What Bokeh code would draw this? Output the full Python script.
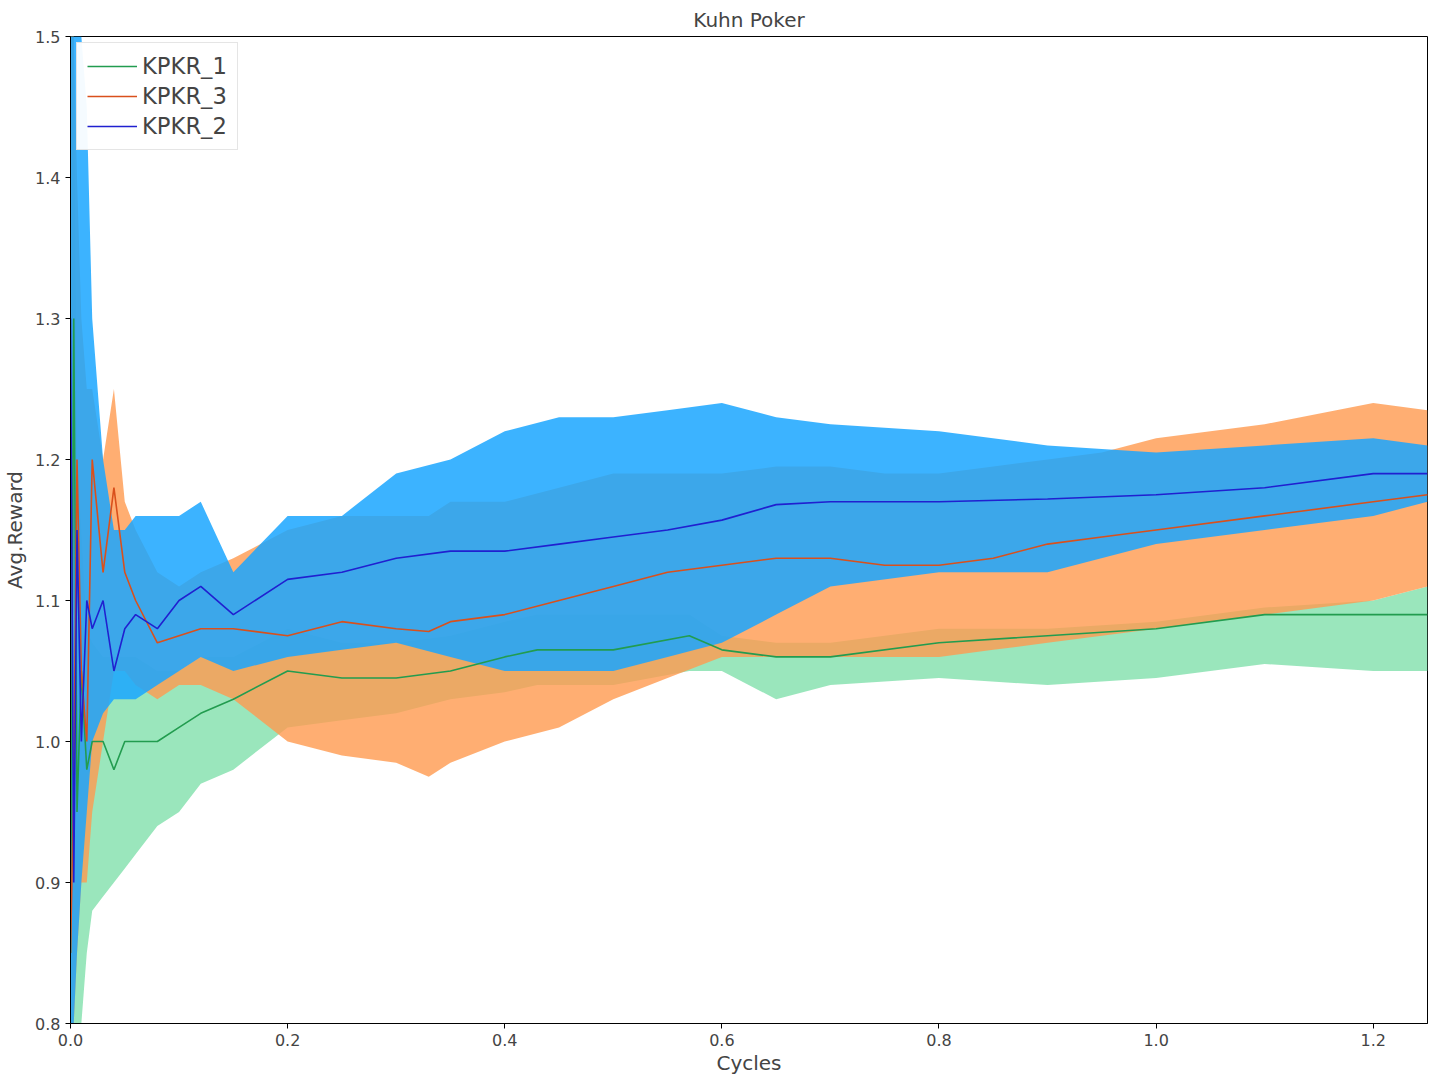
from bokeh.plotting import figure
from bokeh.models import CustomJSTickFormatter, Label, Legend, LegendItem, FixedTicker
from bokeh.embed import file_html
from bokeh.resources import INLINE

# KPKR_1 (green)
g_x = [0, 30, 60, 100, 150, 200, 300, 400, 500, 600, 800, 1000, 1200, 1500, 2000, 2500, 3000, 3500, 4000, 4300, 5000, 5700, 6000, 6500, 7000, 8000, 9000, 10000, 11000, 12000, 12500]
g_m = [0.85, 1.3, 0.95, 1.05, 0.98, 1.0, 1.0, 0.98, 1.0, 1.0, 1.0, 1.01, 1.02, 1.03, 1.05, 1.045, 1.045, 1.05, 1.06, 1.065, 1.065, 1.075, 1.065, 1.06, 1.06, 1.07, 1.075, 1.08, 1.09, 1.09, 1.09]
g_hi = [1.5, 1.5, 1.2, 1.15, 1.08, 1.07, 1.06, 1.06, 1.06, 1.06, 1.05, 1.05, 1.06, 1.06, 1.08, 1.07, 1.07, 1.075, 1.085, 1.09, 1.09, 1.09, 1.075, 1.07, 1.07, 1.08, 1.08, 1.085, 1.095, 1.1, 1.11]
g_lo = [0.8, 0.8, 0.8, 0.8, 0.85, 0.88, 0.89, 0.9, 0.91, 0.92, 0.94, 0.95, 0.97, 0.98, 1.01, 1.015, 1.02, 1.03, 1.035, 1.04, 1.04, 1.05, 1.05, 1.03, 1.04, 1.045, 1.04, 1.045, 1.055, 1.05, 1.05]

# KPKR_3 (orange)
o_x = [0, 30, 60, 100, 150, 200, 300, 400, 500, 600, 800, 1000, 1200, 1500, 2000, 2500, 3000, 3300, 3500, 4000, 4500, 5000, 5500, 6000, 6500, 7000, 7500, 8000, 8500, 9000, 9500, 10000, 11000, 12000, 12500]
o_m = [0.85, 0.97, 1.2, 1.05, 1.0, 1.2, 1.12, 1.18, 1.12, 1.1, 1.07, 1.075, 1.08, 1.08, 1.075, 1.085, 1.08, 1.078, 1.085, 1.09, 1.1, 1.11, 1.12, 1.125, 1.13, 1.13, 1.125, 1.125, 1.13, 1.14, 1.145, 1.15, 1.16, 1.17, 1.175]
o_hi = [1.5, 1.5, 1.4, 1.3, 1.25, 1.25, 1.2, 1.25, 1.17, 1.15, 1.12, 1.11, 1.12, 1.13, 1.15, 1.16, 1.16, 1.16, 1.17, 1.17, 1.18, 1.19, 1.19, 1.19, 1.195, 1.195, 1.19, 1.19, 1.195, 1.2, 1.205, 1.215, 1.225, 1.24, 1.235]
o_lo = [0.8, 0.8, 0.85, 0.9, 0.9, 0.95, 1.0, 1.05, 1.05, 1.04, 1.03, 1.04, 1.04, 1.03, 1.0, 0.99, 0.985, 0.975, 0.985, 1.0, 1.01, 1.03, 1.045, 1.06, 1.06, 1.06, 1.06, 1.06, 1.065, 1.07, 1.075, 1.08, 1.09, 1.1, 1.11]

# KPKR_2 (blue)
b_x = [0, 30, 60, 100, 150, 200, 300, 400, 500, 600, 800, 1000, 1200, 1500, 2000, 2500, 3000, 3500, 4000, 4500, 5000, 5500, 6000, 6500, 7000, 8000, 9000, 10000, 11000, 12000, 12500]
b_m = [1.3, 0.9, 1.15, 1.0, 1.1, 1.08, 1.1, 1.05, 1.08, 1.09, 1.08, 1.1, 1.11, 1.09, 1.115, 1.12, 1.13, 1.135, 1.135, 1.14, 1.145, 1.15, 1.157, 1.168, 1.17, 1.17, 1.172, 1.175, 1.18, 1.19, 1.19]
b_hi = [1.5, 1.5, 1.5, 1.5, 1.45, 1.3, 1.2, 1.15, 1.15, 1.16, 1.16, 1.16, 1.17, 1.12, 1.16, 1.16, 1.19, 1.2, 1.22, 1.23, 1.23, 1.235, 1.24, 1.23, 1.225, 1.22, 1.21, 1.205, 1.21, 1.215, 1.21]
b_lo = [0.8, 0.8, 0.85, 0.9, 0.95, 1.0, 1.02, 1.03, 1.03, 1.03, 1.04, 1.05, 1.06, 1.05, 1.06, 1.065, 1.07, 1.06, 1.05, 1.05, 1.05, 1.06, 1.07, 1.09, 1.11, 1.12, 1.12, 1.14, 1.15, 1.16, 1.17]

p = figure(frame_width=1357, frame_height=987, x_range=(0, 12500), y_range=(0.8, 1.5),
           output_backend="svg", toolbar_location=None, title="Kuhn Poker",
           min_border_left=61, min_border_top=25, min_border_right=6, background_fill_color="white")
p.title.align = "center"
p.title.text_font = "DejaVu Sans"
p.title.text_font_size = "15pt"
p.title.text_font_style = "normal"
p.grid.visible = False
p.outline_line_color = "black"

p.varea(x=g_x, y1=g_lo, y2=g_hi, fill_color="#8fe3b5", fill_alpha=0.9)
p.varea(x=o_x, y1=o_lo, y2=o_hi, fill_color="#ff9a4f", fill_alpha=0.8)
p.varea(x=b_x, y1=b_lo, y2=b_hi, fill_color="#1aa6ff", fill_alpha=0.85)

r1 = p.line(g_x, g_m, line_color="#229c4f", line_width=1.6)
r3 = p.line(o_x, o_m, line_color="#d9501c", line_width=1.6)
r2 = p.line(b_x, b_m, line_color="#2020d0", line_width=1.6)

legend = Legend(items=[LegendItem(label="KPKR_1", renderers=[r1]),
                       LegendItem(label="KPKR_3", renderers=[r3]),
                       LegendItem(label="KPKR_2", renderers=[r2])],
                location="top_left", label_text_font_size="17pt", label_text_font="DejaVu Sans",
                border_line_color="#cccccc", glyph_width=50, spacing=4, margin=6)
p.add_layout(legend)

p.xaxis.ticker = FixedTicker(ticks=[0, 2000, 4000, 6000, 8000, 10000, 12000])
p.xaxis.formatter = CustomJSTickFormatter(code="return (tick/1e4).toFixed(1);")
p.yaxis.ticker = FixedTicker(ticks=[0.8, 0.9, 1.0, 1.1, 1.2, 1.3, 1.4, 1.5])
p.yaxis.formatter = CustomJSTickFormatter(code="return tick.toFixed(1);")
for ax in (p.xaxis, p.yaxis):
    ax.major_label_text_font_size = "12pt"
    ax.major_label_text_font = "DejaVu Sans"
    ax.axis_label_text_font_size = "15pt"
    ax.axis_label_text_font = "DejaVu Sans"
    ax.axis_label_text_font_style = "normal"
    ax.minor_tick_line_color = None
    ax.major_tick_out = 5
    ax.major_tick_in = 0
p.xaxis.axis_label = "Cycles"
p.yaxis.axis_label = "Avg.Reward"
p.xaxis.axis_label_standoff = 2

p.add_layout(Label(x=12500, y=0.8, x_offset=-62, y_offset=-50, text="1e4", text_font_size="12pt",
                   text_font="DejaVu Sans"))

open("out.html", "w").write(file_html(p, INLINE))
